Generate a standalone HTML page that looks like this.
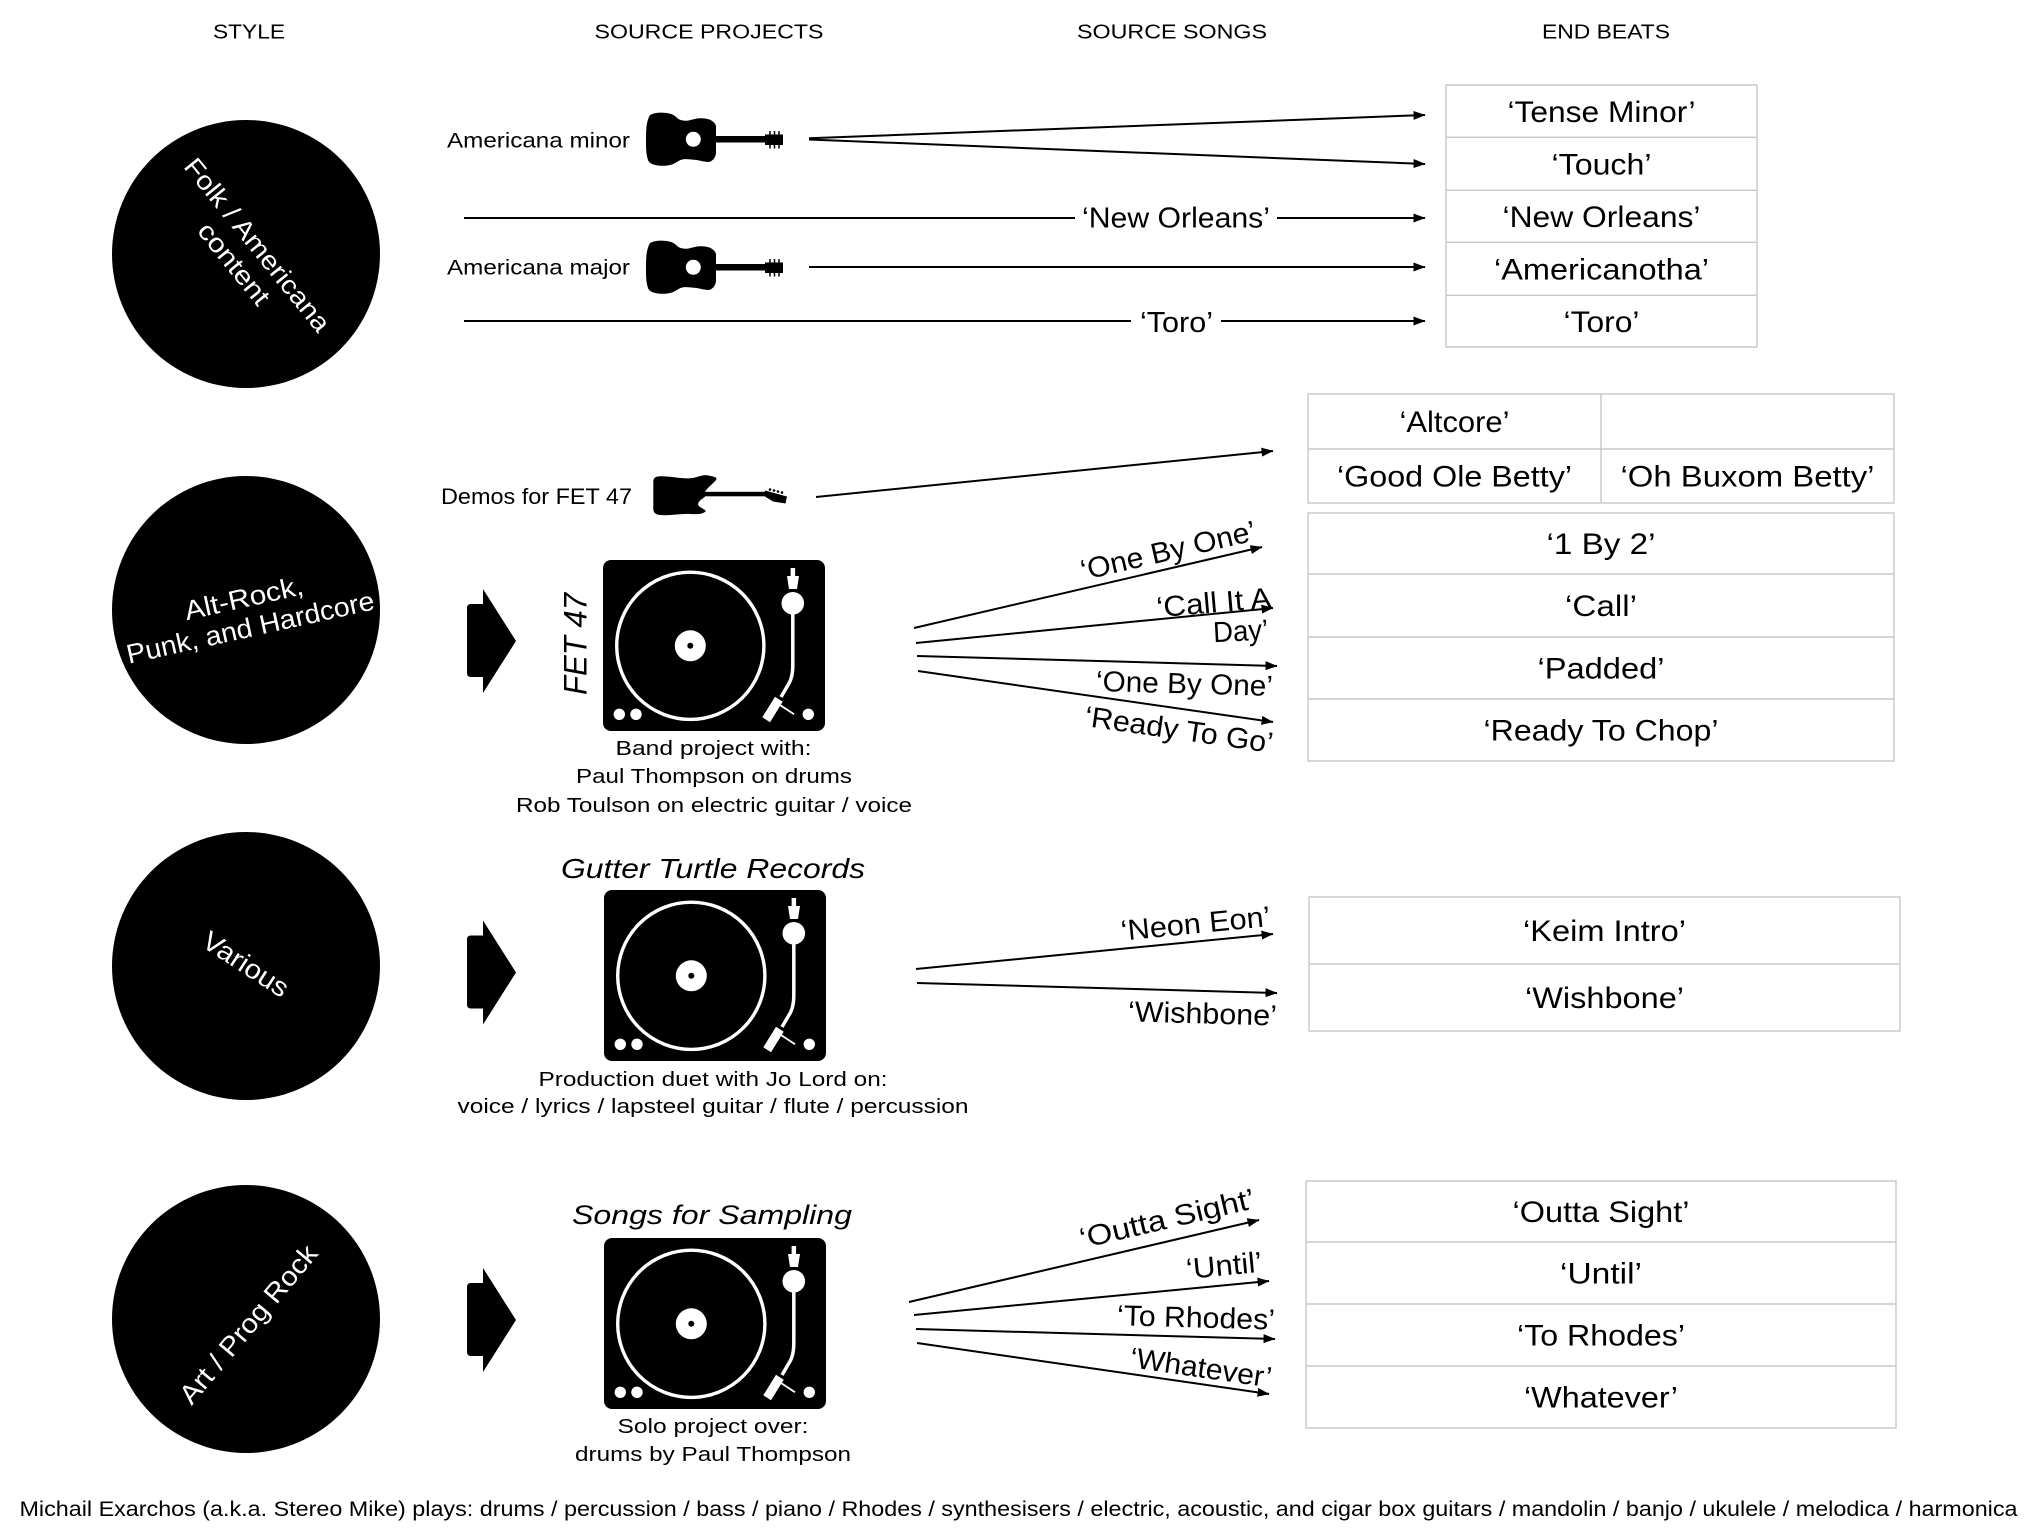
<!DOCTYPE html>
<html><head><meta charset="utf-8">
<style>
html,body{margin:0;padding:0;background:#fff}
svg{display:block}
text{font-family:"Liberation Sans",Arial,sans-serif}
</style></head>
<body>
<svg width="2036" height="1528" viewBox="0 0 2036 1528" xmlns="http://www.w3.org/2000/svg">
<defs>
<marker id="ah" markerWidth="12" markerHeight="9" refX="11.5" refY="4.5" orient="auto" markerUnits="userSpaceOnUse">
<path d="M0,0 L12,4.5 L0,9 Z" fill="#000"/>
</marker>
<g id="tt">
<rect x="0" y="0" width="222" height="171" rx="8" fill="#000"/>
<circle cx="87.3" cy="85.8" r="73.6" fill="none" stroke="#fff" stroke-width="3.4"/>
<circle cx="87.3" cy="85.8" r="15.5" fill="#fff"/>
<circle cx="87.3" cy="85.8" r="3" fill="#000"/>
<rect x="187.6" y="8" width="4.5" height="9" fill="#fff"/>
<polygon points="184,16 196,16 194,29 186,29" fill="#fff"/>
<circle cx="189.8" cy="43.3" r="11.3" fill="#fff"/>
<path d="M189.8,50 L189.8,105 Q189.8,118 185,125 L178,137" stroke="#fff" stroke-width="3.5" fill="none"/>
<polygon points="172,136.7 179.7,141.7 167,162.3 159.3,157.3" fill="#fff"/>
<line x1="177" y1="145" x2="191" y2="154.3" stroke="#fff" stroke-width="1.8"/>
<circle cx="16.3" cy="154.3" r="5.7" fill="#fff"/>
<circle cx="33" cy="154.3" r="5.7" fill="#fff"/>
<circle cx="205.3" cy="154.3" r="5.7" fill="#fff"/>
</g>
<g id="aguitar">
<path d="M650,115 C655,112.5 660,112.5 663.3,112.7 C668,112.8 672,114 673.3,115 C676,116.5 678,119 680,119.8 C682,120.6 684.5,120.8 686.7,120.7 C691,120.5 695,118.3 700,118.3 C705,118.3 709,119 711.7,120.7 C714.5,122.5 716,124.5 716,127 L716,152 C716,156 714,160 710,161.7 C706,162.5 700,160.5 696.7,160 C692,159.6 687,158.8 683.3,159.3 C679,160 676,163 673.3,164 C669,165.6 664,166 660,165.7 C654,165.3 649,163.5 648,160 C646,154 646,148 646,140 C646,131 646,122 650,115 Z" fill="#000"/>
<circle cx="693.3" cy="139.3" r="7.5" fill="#fff"/>
<rect x="714" y="136" width="53" height="6.5" fill="#000"/>
<rect x="765" y="134.5" width="18" height="10.5" fill="#000"/>
<g stroke="#000" stroke-width="1.5">
<line x1="770" y1="131" x2="770" y2="135"/><line x1="774.5" y1="131" x2="774.5" y2="135"/><line x1="779" y1="131" x2="779" y2="135"/>
<line x1="770" y1="144.5" x2="770" y2="148.5"/><line x1="774.5" y1="144.5" x2="774.5" y2="148.5"/><line x1="779" y1="144.5" x2="779" y2="148.5"/>
</g>
</g>
<path id="chev" d="M471,-37 L483,-37 L483,-52 L516,0 L483,52 L483,36 L471,36 Q467,36 467,32 L467,-33 Q467,-37 471,-37 Z" fill="#000"/>
</defs>

<!-- Headings -->
<g font-size="20" fill="#000" text-anchor="middle">
<text x="249" y="38.3" textLength="72" lengthAdjust="spacingAndGlyphs">STYLE</text>
<text x="709" y="38.3" textLength="229" lengthAdjust="spacingAndGlyphs">SOURCE PROJECTS</text>
<text x="1172" y="38.3" textLength="190" lengthAdjust="spacingAndGlyphs">SOURCE SONGS</text>
<text x="1606" y="38.3" textLength="128" lengthAdjust="spacingAndGlyphs">END BEATS</text>
</g>

<!-- Circles -->
<circle cx="246" cy="254" r="134" fill="#000"/>
<circle cx="246" cy="610" r="134" fill="#000"/>
<circle cx="246" cy="966" r="134" fill="#000"/>
<circle cx="246" cy="1319" r="134" fill="#000"/>

<g fill="#fff" text-anchor="middle">
<g transform="translate(246,254) rotate(51)" font-size="26">
<text x="0" y="-5.7" textLength="215" lengthAdjust="spacingAndGlyphs">Folk / Americana</text>
<text x="0" y="24.3" textLength="98" lengthAdjust="spacingAndGlyphs">content</text>
</g>
<g transform="translate(247,612.5) rotate(-12.5)" font-size="27">
<text x="0" y="-5.5" textLength="121" lengthAdjust="spacingAndGlyphs">Alt-Rock,</text>
<text x="0" y="24.5" textLength="253" lengthAdjust="spacingAndGlyphs">Punk, and Hardcore</text>
</g>
<text transform="translate(246,964) rotate(33)" x="0" y="9.5" font-size="27" textLength="97" lengthAdjust="spacingAndGlyphs">Various</text>
<text transform="translate(248,1324) rotate(-50)" x="0" y="9.5" font-size="27" textLength="198" lengthAdjust="spacingAndGlyphs">Art / Prog Rock</text>
</g>

<!-- Row 1 -->
<g font-size="21.5" fill="#000">
<text x="447" y="147.7" textLength="183" lengthAdjust="spacingAndGlyphs">Americana minor</text>
<text x="447" y="274.5" textLength="183" lengthAdjust="spacingAndGlyphs">Americana major</text>
<text x="441" y="504" font-size="22" textLength="191" lengthAdjust="spacingAndGlyphs">Demos for FET 47</text>
</g>
<use href="#aguitar"/>
<use href="#aguitar" y="128"/>

<!-- Electric guitar -->
<path d="M656.7,476.7 C665,475 680,479 690,478.3 C698,477.7 703,474 708.3,475.5 C713,476.5 718,477 716,480 C714,483 709,486 705,491.7 L705,496.7 C702,499 697,502 698.3,505 C699.5,508 708,510 705,512 C700,515 695,514 690,514 C680,513.5 670,516 660,515 C655,514.5 653,512 653.3,508 L653.3,482 C653.3,479 654.5,477.3 656.7,476.7 Z" fill="#000"/>
<rect x="704" y="491.8" width="63" height="4.5" fill="#000"/>
<polygon points="765,490.5 787,496.5 785.5,503.5 773,501.5 765,496.5" fill="#000"/>
<g fill="#000"><circle cx="770" cy="489.5" r="1.3"/><circle cx="774" cy="490.5" r="1.3"/><circle cx="778" cy="491.5" r="1.3"/><circle cx="782" cy="492.5" r="1.3"/></g>

<!-- Arrows -->
<g stroke="#000" stroke-width="2" fill="none">
<line x1="809" y1="138.3" x2="1425" y2="115" marker-end="url(#ah)"/>
<line x1="809" y1="139.5" x2="1425" y2="164" marker-end="url(#ah)"/>
<line x1="464" y1="218" x2="1075" y2="218"/>
<line x1="1277" y1="218" x2="1425" y2="218" marker-end="url(#ah)"/>
<line x1="809" y1="267" x2="1425" y2="267" marker-end="url(#ah)"/>
<line x1="464" y1="321" x2="1131" y2="321"/>
<line x1="1221" y1="321" x2="1425" y2="321" marker-end="url(#ah)"/>

<line x1="816" y1="497" x2="1273" y2="451" marker-end="url(#ah)"/>
<line x1="914" y1="628" x2="1262" y2="547" marker-end="url(#ah)"/>
<line x1="916" y1="643" x2="1273" y2="608" marker-end="url(#ah)"/>
<line x1="917" y1="656" x2="1277" y2="666" marker-end="url(#ah)"/>
<line x1="918" y1="671" x2="1273" y2="722" marker-end="url(#ah)"/>

<line x1="916" y1="969" x2="1273" y2="934" marker-end="url(#ah)"/>
<line x1="917" y1="983" x2="1277" y2="993" marker-end="url(#ah)"/>

<line x1="909" y1="1302" x2="1259" y2="1220" marker-end="url(#ah)"/>
<line x1="914" y1="1315" x2="1269" y2="1281" marker-end="url(#ah)"/>
<line x1="916" y1="1329" x2="1275" y2="1339" marker-end="url(#ah)"/>
<line x1="917" y1="1343" x2="1269" y2="1394" marker-end="url(#ah)"/>
</g>

<!-- Song labels -->
<g font-size="29" fill="#000" text-anchor="middle">
<text x="1176" y="227.4" textLength="188" lengthAdjust="spacingAndGlyphs">‘New Orleans’</text>
<text x="1176.5" y="332" textLength="73" lengthAdjust="spacingAndGlyphs">‘Toro’</text>

<text transform="translate(1168,550) rotate(-13.1)" x="0" y="10.4" textLength="179" lengthAdjust="spacingAndGlyphs">‘One By One’</text>
<text transform="translate(1271,597) rotate(-5)" x="0" y="10.4" text-anchor="end" textLength="115" lengthAdjust="spacingAndGlyphs">‘Call It A</text>
<text transform="translate(1268,629) rotate(-3)" x="0" y="10.4" text-anchor="end" textLength="55" lengthAdjust="spacingAndGlyphs">Day’</text>
<text transform="translate(1184.5,683) rotate(1.6)" x="0" y="10.4" textLength="177" lengthAdjust="spacingAndGlyphs">‘One By One’</text>
<text transform="translate(1179,729) rotate(8.2)" x="0" y="10.4" textLength="190" lengthAdjust="spacingAndGlyphs">‘Ready To Go’</text>

<text transform="translate(1195.5,923) rotate(-5.6)" x="0" y="10.4" textLength="150" lengthAdjust="spacingAndGlyphs">‘Neon Eon’</text>
<text transform="translate(1202.5,1013) rotate(1.6)" x="0" y="10.4" textLength="149" lengthAdjust="spacingAndGlyphs">‘Wishbone’</text>

<text transform="translate(1167,1218) rotate(-13.2)" x="0" y="10.4" textLength="179" lengthAdjust="spacingAndGlyphs">‘Outta Sight’</text>
<text transform="translate(1224,1265) rotate(-5.5)" x="0" y="10.4" textLength="76" lengthAdjust="spacingAndGlyphs">‘Until’</text>
<text transform="translate(1196,1317) rotate(1.6)" x="0" y="10.4" textLength="158" lengthAdjust="spacingAndGlyphs">‘To Rhodes’</text>
<text transform="translate(1201,1367) rotate(8.2)" x="0" y="10.4" textLength="143" lengthAdjust="spacingAndGlyphs">‘Whatever’</text>
</g>

<!-- Chevrons -->
<use href="#chev" y="641"/>
<use href="#chev" y="972.5"/>
<use href="#chev" y="1320"/>

<!-- Turntables -->
<use href="#tt" x="603" y="560"/>
<use href="#tt" x="604" y="890"/>
<use href="#tt" x="604" y="1238"/>

<!-- Project titles / captions -->
<g fill="#000" text-anchor="middle">
<text transform="translate(575,644) rotate(-90)" x="0" y="11.5" font-size="32" font-style="italic" textLength="102" lengthAdjust="spacingAndGlyphs">FET 47</text>
<text x="713" y="878" font-size="28" font-style="italic" textLength="304" lengthAdjust="spacingAndGlyphs">Gutter Turtle Records</text>
<text x="712" y="1224" font-size="27" font-style="italic" textLength="280" lengthAdjust="spacingAndGlyphs">Songs for Sampling</text>
<g font-size="20">
<text x="713.5" y="755" textLength="196" lengthAdjust="spacingAndGlyphs">Band project with:</text>
<text x="714" y="783" textLength="276" lengthAdjust="spacingAndGlyphs">Paul Thompson on drums</text>
<text x="714" y="812" textLength="396" lengthAdjust="spacingAndGlyphs">Rob Toulson on electric guitar / voice</text>
<text x="713" y="1086" textLength="349" lengthAdjust="spacingAndGlyphs">Production duet with Jo Lord on:</text>
<text x="713" y="1113" textLength="511" lengthAdjust="spacingAndGlyphs">voice / lyrics / lapsteel guitar / flute / percussion</text>
<text x="713" y="1433" textLength="191" lengthAdjust="spacingAndGlyphs">Solo project over:</text>
<text x="713" y="1461" textLength="276" lengthAdjust="spacingAndGlyphs">drums by Paul Thompson</text>
</g>
</g>

<!-- Tables -->
<g fill="none" stroke="#c8c8c8" stroke-width="1.4">
<rect x="1446" y="85" width="311" height="262"/>
<line x1="1446" y1="137.3" x2="1757" y2="137.3"/>
<line x1="1446" y1="190.3" x2="1757" y2="190.3"/>
<line x1="1446" y1="242.3" x2="1757" y2="242.3"/>
<line x1="1446" y1="295.3" x2="1757" y2="295.3"/>

<rect x="1308" y="394" width="586" height="109"/>
<line x1="1308" y1="449" x2="1894" y2="449"/>
<line x1="1601" y1="394" x2="1601" y2="503"/>

<rect x="1308" y="513" width="586" height="248"/>
<line x1="1308" y1="574" x2="1894" y2="574"/>
<line x1="1308" y1="637" x2="1894" y2="637"/>
<line x1="1308" y1="699" x2="1894" y2="699"/>

<rect x="1309" y="897" width="591" height="134"/>
<line x1="1309" y1="964" x2="1900" y2="964"/>

<rect x="1306" y="1181" width="590" height="247"/>
<line x1="1306" y1="1242" x2="1896" y2="1242"/>
<line x1="1306" y1="1304" x2="1896" y2="1304"/>
<line x1="1306" y1="1366" x2="1896" y2="1366"/>
</g>

<g font-size="30" fill="#000" text-anchor="middle">
<text x="1601.5" y="121.9" textLength="188" lengthAdjust="spacingAndGlyphs">‘Tense Minor’</text>
<text x="1601.5" y="174.5" textLength="100" lengthAdjust="spacingAndGlyphs">‘Touch’</text>
<text x="1601.5" y="227" textLength="198" lengthAdjust="spacingAndGlyphs">‘New Orleans’</text>
<text x="1601.5" y="279.5" textLength="215" lengthAdjust="spacingAndGlyphs">‘Americanotha’</text>
<text x="1601.5" y="331.9" textLength="76" lengthAdjust="spacingAndGlyphs">‘Toro’</text>

<text x="1454.5" y="432.2" textLength="110" lengthAdjust="spacingAndGlyphs">‘Altcore’</text>
<text x="1454.5" y="486.7" textLength="235" lengthAdjust="spacingAndGlyphs">‘Good Ole Betty’</text>
<text x="1747.5" y="486.7" textLength="254" lengthAdjust="spacingAndGlyphs">‘Oh Buxom Betty’</text>

<text x="1601" y="554.2" textLength="109" lengthAdjust="spacingAndGlyphs">‘1 By 2’</text>
<text x="1601" y="616.2" textLength="72" lengthAdjust="spacingAndGlyphs">‘Call’</text>
<text x="1601" y="678.7" textLength="127" lengthAdjust="spacingAndGlyphs">‘Padded’</text>
<text x="1601" y="740.7" textLength="235" lengthAdjust="spacingAndGlyphs">‘Ready To Chop’</text>

<text x="1604.5" y="941.2" textLength="163" lengthAdjust="spacingAndGlyphs">‘Keim Intro’</text>
<text x="1604.5" y="1008.2" textLength="159" lengthAdjust="spacingAndGlyphs">‘Wishbone’</text>

<text x="1601" y="1222.2" textLength="177" lengthAdjust="spacingAndGlyphs">‘Outta Sight’</text>
<text x="1601" y="1283.7" textLength="82" lengthAdjust="spacingAndGlyphs">‘Until’</text>
<text x="1601" y="1345.7" textLength="168" lengthAdjust="spacingAndGlyphs">‘To Rhodes’</text>
<text x="1601" y="1407.7" textLength="154" lengthAdjust="spacingAndGlyphs">‘Whatever’</text>
</g>

<!-- Footer -->
<text x="19.5" y="1516" font-size="21" fill="#000" textLength="1998" lengthAdjust="spacingAndGlyphs">Michail Exarchos (a.k.a. Stereo Mike) plays: drums / percussion / bass / piano / Rhodes / synthesisers / electric, acoustic, and cigar box guitars / mandolin / banjo / ukulele / melodica / harmonica</text>
</svg>
</body></html>
